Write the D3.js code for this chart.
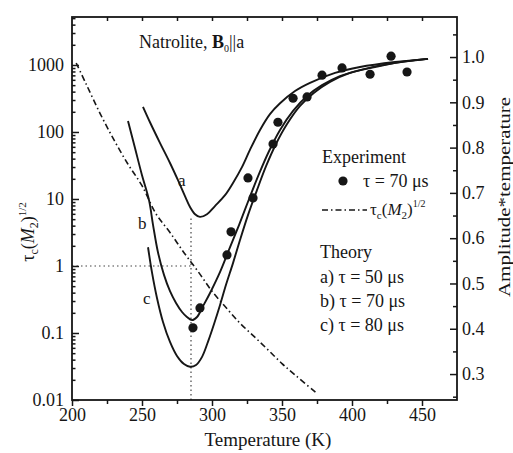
<!DOCTYPE html>
<html><head><meta charset="utf-8">
<script src="https://cdn.jsdelivr.net/npm/d3@7"></script>
<style>
body{margin:0;background:#fff}
svg{display:block}
text{font-family:"Liberation Serif","Times New Roman",serif;fill:#161616}
</style>
</head><body>
<svg id="c" width="513" height="453"></svg>
<script>
// ---- data ----
const xTicks = [200, 250, 300, 350, 400, 450];
const xMinorTicks = [225, 275, 325, 375, 425];
const xTopTicks = [225, 250, 275, 300, 325, 350, 375, 400, 425, 450];
const leftTicks = [0.01, 0.1, 1, 10, 100, 1000];
const leftTickLabels = ["0.01", "0.1", "1", "10", "100", "1000"];
const rightTicks = [0.3, 0.4, 0.5, 0.6, 0.7, 0.8, 0.9, 1.0];
const rightTickLabels = ["0.3", "0.4", "0.5", "0.6", "0.7", "0.8", "0.9", "1.0"];
const rightMinorTicks = [0.25, 0.35, 0.45, 0.55, 0.65, 0.75, 0.85, 0.95, 1.05];

// experiment (tau = 70 us), amplitude*temperature
const expT = [286.4, 291.4, 310.7, 313.6, 325.7, 329.3, 343.6, 347.1, 357.9, 367.9, 378.6, 392.9, 412.9, 427.9, 439.3];
const expV = [0.402, 0.446, 0.563, 0.614, 0.733, 0.689, 0.808, 0.856, 0.909, 0.912, 0.960, 0.976, 0.962, 1.002, 0.967];

// tau_c (M2)^1/2 (left log axis)
const tauT = [203, 210, 220, 230, 240, 250, 260, 270, 280, 290, 300, 310, 320, 330, 340, 350, 360, 374];
const tauV = [1070, 525, 190, 76, 33, 15.8, 6.0, 3.16, 1.58, 0.83, 0.42, 0.24, 0.14, 0.089, 0.056, 0.035, 0.023, 0.013];

// theory curves (amplitude*temperature)
const theoryA = [[250.7,0.890],[255.7,0.856],[262.9,0.810],[270.0,0.766],[275.7,0.728],[280.7,0.693],[284.3,0.669],[287.9,0.653],[291.4,0.647],[296.4,0.653],[302.1,0.671],[309.3,0.695],[315.0,0.722],[321.4,0.757],[327.1,0.795],[334.3,0.839],[341.4,0.874],[348.6,0.898],[359.3,0.925],[370.0,0.943],[387.9,0.965],[405.7,0.978],[430.7,0.989],[454.3,0.996]];
const theoryB = [[240.0,0.859],[245.0,0.799],[250.0,0.739],[255.0,0.684],[257.9,0.629],[261.4,0.569],[265.7,0.519],[270.0,0.483],[274.3,0.457],[278.6,0.437],[282.1,0.426],[285.7,0.419],[289.3,0.426],[293.6,0.450],[298.6,0.479],[305.7,0.525],[312.1,0.574],[319.3,0.629],[326.4,0.686],[333.6,0.742],[340.7,0.792],[348.6,0.839],[357.9,0.881],[367.9,0.914],[378.6,0.938],[391.4,0.958],[409.3,0.974],[430.7,0.987],[454.3,0.996]];
const theoryC = [[254.3,0.580],[257.1,0.525],[260.7,0.468],[265.0,0.415],[270.0,0.371],[275.0,0.340],[280.0,0.322],[284.3,0.316],[288.6,0.320],[292.9,0.338],[297.1,0.371],[301.4,0.410],[305.7,0.452],[310.0,0.497],[315.0,0.545],[320.0,0.596],[325.7,0.651],[332.1,0.706],[338.6,0.759],[345.7,0.808],[353.6,0.852],[362.9,0.892],[372.9,0.921],[384.3,0.945],[398.6,0.965],[416.4,0.978],[434.3,0.989],[454.3,0.996]];

const markT = 285;       // dotted guide temperature
const markTop = 5.2;     // guide top on log axis
const markLevel = 1;     // horizontal guide level

// ---- drawing ----
const svg = d3.select("#c");
const L = 72, R = 457, T = 17, B = 400;
const x = d3.scaleLinear().domain([200, 475]).range([L, R]);
const yL = d3.scaleLog().domain([0.01, Math.pow(10, 3.716)]).range([B, T]);
const yR = d3.scaleLinear().domain([0.2427, 1.0884]).range([B, T]);
const ink = "#161616";

// guides
svg.append("line").attr("x1", x(markT)).attr("x2", x(markT))
  .attr("y1", yL(0.01)).attr("y2", yL(markTop))
  .attr("stroke", "#444").attr("stroke-width", 1.2).attr("stroke-dasharray", "1.5,3");
svg.append("line").attr("x1", x(200)).attr("x2", x(markT))
  .attr("y1", yL(markLevel)).attr("y2", yL(markLevel))
  .attr("stroke", "#444").attr("stroke-width", 1.2).attr("stroke-dasharray", "1.5,3");

// dash-dot tau line
const tauLine = d3.line().x(d => x(d[0])).y(d => yL(d[1])).curve(d3.curveCatmullRom.alpha(0.5));
svg.append("path").datum(tauT.map((t, i) => [t, tauV[i]]))
  .attr("d", tauLine).attr("fill", "none").attr("stroke", ink)
  .attr("stroke-width", 1.6).attr("stroke-dasharray", "6,3,1.5,3");

// theory curves
const thLine = d3.line().x(d => x(d[0])).y(d => yR(d[1])).curve(d3.curveCatmullRom.alpha(0.5));
[theoryA, theoryB, theoryC].forEach(c => {
  svg.append("path").datum(c).attr("d", thLine).attr("fill", "none")
    .attr("stroke", ink).attr("stroke-width", 1.9);
});

// experiment points
svg.append("g").selectAll("circle").data(expT.map((t, i) => [t, expV[i]])).join("circle")
  .attr("cx", d => x(d[0])).attr("cy", d => yR(d[1])).attr("r", 4.6).attr("fill", ink);

// frame
svg.append("rect").attr("x", L).attr("y", T).attr("width", R - L).attr("height", B - T)
  .attr("fill", "none").attr("stroke", ink).attr("stroke-width", 1.8);

// axes
function styleAxis(g) {
  g.select(".domain").remove();
  g.selectAll(".tick line").attr("stroke", ink).attr("stroke-width", 1.5);
  g.selectAll("text").attr("font-size", 18).attr("fill", ink)
    .attr("font-family", '"Liberation Serif", serif');
}
const gB = svg.append("g").attr("transform", `translate(0,${B})`)
  .call(d3.axisBottom(x).tickValues(xTicks).tickFormat(d3.format("d")).tickSize(6).tickPadding(2));
styleAxis(gB);
const gBm = svg.append("g").attr("transform", `translate(0,${B})`)
  .call(d3.axisBottom(x).tickValues(xMinorTicks).tickFormat("").tickSize(4));
styleAxis(gBm);
const gT = svg.append("g").attr("transform", `translate(0,${T})`)
  .call(d3.axisTop(x).tickValues(xTopTicks).tickFormat("").tickSize(-4));
styleAxis(gT);

const gL = svg.append("g").attr("transform", `translate(${L},0)`)
  .call(d3.axisLeft(yL).tickValues(leftTicks).tickFormat((d, i) => leftTickLabels[i]).tickSize(-7).tickPadding(8));
styleAxis(gL);
const minorLog = [];
for (let e = -2; e <= 3; e++) for (let m = 2; m <= 9; m++) { const v = m * Math.pow(10, e); if (v < yL.domain()[1]) minorLog.push(v); }
const gLm = svg.append("g").attr("transform", `translate(${L},0)`)
  .call(d3.axisLeft(yL).tickValues(minorLog).tickFormat("").tickSize(-3.5));
styleAxis(gLm);

const gR = svg.append("g").attr("transform", `translate(${R},0)`)
  .call(d3.axisRight(yR).tickValues(rightTicks).tickFormat((d, i) => rightTickLabels[i]).tickSize(-7).tickPadding(5));
styleAxis(gR);
const gRm = svg.append("g").attr("transform", `translate(${R},0)`)
  .call(d3.axisRight(yR).tickValues(rightMinorTicks).tickFormat("").tickSize(-4));
styleAxis(gRm);

// axis titles
svg.append("text").attr("x", 268).attr("y", 446).attr("text-anchor", "middle")
  .attr("font-size", 19).text("Temperature (K)");

const yl = svg.append("text").attr("transform", "translate(34,232) rotate(-90)")
  .attr("text-anchor", "middle").attr("font-size", 18);
yl.append("tspan").text("τ");
yl.append("tspan").attr("font-size", 12).attr("dy", 4).text("c");
yl.append("tspan").attr("dy", -4).text("(");
yl.append("tspan").attr("font-style", "italic").text("M");
yl.append("tspan").attr("font-size", 12).attr("dy", 4).text("2");
yl.append("tspan").attr("dy", -4).text(")");
yl.append("tspan").attr("font-size", 11).attr("dy", -8).text("1/2");

svg.append("text").attr("transform", "translate(510,197) rotate(-90)")
  .attr("text-anchor", "middle").attr("font-size", 16)
  .attr("font-family", '"Liberation Sans", Arial, sans-serif')
  .attr("textLength", 200).attr("lengthAdjust", "spacingAndGlyphs")
  .text("Amplitude*temperature");

// title inside
const tt = svg.append("text").attr("x", 139).attr("y", 48).attr("font-size", 18);
tt.append("tspan").text("Natrolite, ");
tt.append("tspan").attr("font-weight", "bold").text("B");
tt.append("tspan").attr("font-size", 10).attr("dy", 4).text("0");
tt.append("tspan").attr("dy", -4).text("||a");

// curve labels
svg.append("text").attr("x", 178).attr("y", 186).attr("font-size", 17).text("a");
svg.append("text").attr("x", 138).attr("y", 229).attr("font-size", 17).text("b");
svg.append("text").attr("x", 143).attr("y", 304).attr("font-size", 17).text("c");

// legend
svg.append("text").attr("x", 322).attr("y", 163).attr("font-size", 18).text("Experiment");
svg.append("circle").attr("cx", 343).attr("cy", 181).attr("r", 4.6).attr("fill", ink);
svg.append("text").attr("x", 363).attr("y", 187).attr("font-size", 18).text("τ = 70 μs");
svg.append("line").attr("x1", 322).attr("x2", 367).attr("y1", 210).attr("y2", 210)
  .attr("stroke", ink).attr("stroke-width", 1.6).attr("stroke-dasharray", "6,3,1.5,3");
const lg = svg.append("text").attr("x", 370).attr("y", 215).attr("font-size", 17);
lg.append("tspan").text("τ");
lg.append("tspan").attr("font-size", 11).attr("dy", 4).text("c");
lg.append("tspan").attr("dy", -4).text("(");
lg.append("tspan").attr("font-style", "italic").text("M");
lg.append("tspan").attr("font-size", 11).attr("dy", 4).text("2");
lg.append("tspan").attr("dy", -4).text(")");
lg.append("tspan").attr("font-size", 10).attr("dy", -8).text("1/2");

svg.append("text").attr("x", 320).attr("y", 258).attr("font-size", 18).text("Theory");
svg.append("text").attr("x", 320).attr("y", 283).attr("font-size", 18).text("a) τ = 50 μs");
svg.append("text").attr("x", 320).attr("y", 307).attr("font-size", 18).text("b) τ = 70 μs");
svg.append("text").attr("x", 320).attr("y", 331).attr("font-size", 18).text("c) τ = 80 μs");
</script>
</body></html>
